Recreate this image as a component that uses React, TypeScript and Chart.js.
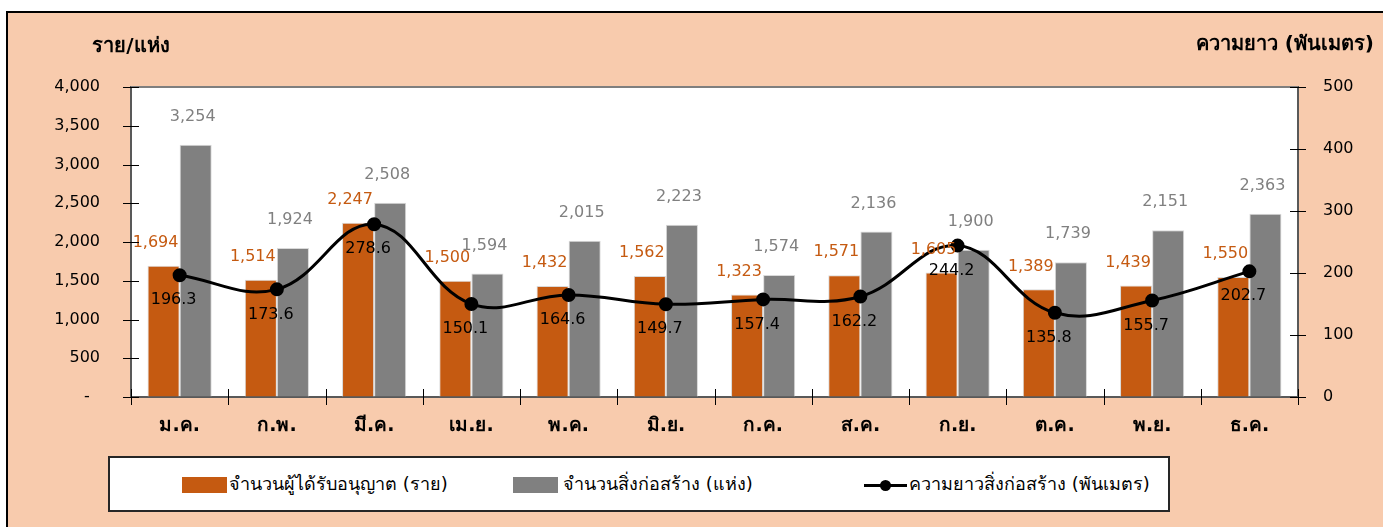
import React, { useEffect, useRef } from "react";
import { Chart, registerables } from "chart.js";

Chart.register(...registerables);

const months = ["ม.ค.", "ก.พ.", "มี.ค.", "เม.ย.", "พ.ค.", "มิ.ย.", "ก.ค.", "ส.ค.", "ก.ย.", "ต.ค.", "พ.ย.", "ธ.ค."];
const permitHolders = [1694, 1514, 2247, 1500, 1432, 1562, 1323, 1571, 1605, 1389, 1439, 1550];
const structures = [3254, 1924, 2508, 1594, 2015, 2223, 1574, 2136, 1900, 1739, 2151, 2363];
const lengthThousandM = [196.3, 173.6, 278.6, 150.1, 164.6, 149.7, 157.4, 162.2, 244.2, 135.8, 155.7, 202.7];
const seriesNames = [
  "จำนวนผู้ได้รับอนุญาต (ราย)",
  "จำนวนสิ่งก่อสร้าง (แห่ง)",
  "ความยาวสิ่งก่อสร้าง (พันเมตร)",
];
const leftAxisTitle = "ราย/แห่ง";
const rightAxisTitle = "ความยาว (พันเมตร)";
const leftAxisMax = 4000;
const leftAxisStep = 500;
const rightAxisMax = 500;
const rightAxisStep = 100;

const ORANGE = "#C55A11";
const GRAY = "#808080";
const PEACH = "#F8CBAD";
const FONT = "'DejaVu Sans', 'Noto Sans', sans-serif";

const CANVAS_W = 1375;
const CANVAS_H = 514;

const fmt = (v: number) => v.toLocaleString("en-US");

const decorPlugin = {
  id: "decor",
  beforeDraw(chart: any) {
    const { ctx, chartArea: a } = chart;
    ctx.save();
    ctx.fillStyle = "#ffffff";
    ctx.fillRect(a.left, a.top, a.right - a.left, a.bottom - a.top);
    ctx.restore();
  },
  afterDatasetsDraw(chart: any) {
    const { ctx } = chart;
    ctx.save();
    ctx.textAlign = "center";
    ctx.textBaseline = "middle";
    ctx.font = `16px ${FONT}`;
    const m0 = chart.getDatasetMeta(0);
    m0.data.forEach((el: any, i: number) => {
      ctx.fillStyle = ORANGE;
      ctx.fillText(fmt(permitHolders[i]), el.x - 8, el.y - 23);
    });
    const m1 = chart.getDatasetMeta(1);
    m1.data.forEach((el: any, i: number) => {
      ctx.fillStyle = GRAY;
      ctx.fillText(fmt(structures[i]), el.x - 3, el.y - 28);
    });
    const m2 = chart.getDatasetMeta(2);
    m2.data.forEach((el: any, i: number) => {
      ctx.fillStyle = "#000";
      ctx.fillText(lengthThousandM[i].toFixed(1), el.x - 6, el.y + 25);
    });
    ctx.restore();
  },
  afterDraw(chart: any) {
    const { ctx, chartArea: a, scales } = chart;
    ctx.save();
    // top border of plot area
    ctx.strokeStyle = "#7f7f7f";
    ctx.lineWidth = 2;
    ctx.beginPath();
    ctx.moveTo(a.left, a.top);
    ctx.lineTo(a.right, a.top);
    ctx.stroke();
    // cross tick marks
    ctx.strokeStyle = "#000";
    ctx.lineWidth = 1;
    ctx.beginPath();
    scales.y.ticks.forEach((t: any) => {
      const y = Math.round(scales.y.getPixelForValue(t.value)) + 0.5;
      ctx.moveTo(a.left - 8, y);
      ctx.lineTo(a.left + 8, y);
    });
    scales.y1.ticks.forEach((t: any) => {
      const y = Math.round(scales.y1.getPixelForValue(t.value)) + 0.5;
      ctx.moveTo(a.right - 8, y);
      ctx.lineTo(a.right + 8, y);
    });
    const n = months.length;
    for (let i = 0; i <= n; i++) {
      const x = Math.round(a.left + ((a.right - a.left) * i) / n) + 0.5;
      ctx.moveTo(x, a.bottom - 8);
      ctx.lineTo(x, a.bottom + 8);
    }
    ctx.stroke();
    // right axis tick labels
    ctx.fillStyle = "#000";
    ctx.font = `16px ${FONT}`;
    ctx.textAlign = "left";
    ctx.textBaseline = "middle";
    scales.y1.ticks.forEach((t: any) => {
      const y = scales.y1.getPixelForValue(t.value);
      ctx.fillText(String(t.value), a.right + 25, y);
    });
    // axis titles
    ctx.font = `bold 20px ${FONT}`;
    ctx.textBaseline = "middle";
    ctx.textAlign = "center";
    ctx.fillText(leftAxisTitle, 123, 34);
    ctx.textAlign = "right";
    ctx.fillText(rightAxisTitle, 1366, 32);
    ctx.restore();
  },
};

export default function App() {
  const ref = useRef<HTMLCanvasElement | null>(null);

  useEffect(() => {
    if (!ref.current) return;
    const chart = new Chart(ref.current, {
      type: "bar",
      data: {
        labels: months,
        datasets: [
          {
            type: "bar",
            label: seriesNames[0],
            data: permitHolders,
            backgroundColor: ORANGE,
            borderColor: "#d9d9d9",
            borderWidth: 1,
            yAxisID: "y",
            order: 1,
            categoryPercentage: 0.66,
            barPercentage: 1.0,
          },
          {
            type: "bar",
            label: seriesNames[1],
            data: structures,
            backgroundColor: GRAY,
            borderColor: "#d9d9d9",
            borderWidth: 1,
            yAxisID: "y",
            order: 1,
            categoryPercentage: 0.66,
            barPercentage: 1.0,
          },
          {
            type: "line",
            label: seriesNames[2],
            data: lengthThousandM,
            borderColor: "#000",
            backgroundColor: "#000",
            borderWidth: 3,
            pointRadius: 5.5,
            pointBackgroundColor: "#000",
            pointBorderColor: "#000",
            tension: 0.4,
            yAxisID: "y1",
            order: 0,
          } as any,
        ],
      },
      options: {
        responsive: false,
        animation: false,
        layout: { padding: { top: 74, left: 0, right: 0, bottom: 0 } },
        plugins: {
          legend: { display: false },
          tooltip: { enabled: false },
        },
        scales: {
          x: {
            type: "category",
            offset: true,
            grid: { display: true, offset: true, drawOnChartArea: false, drawTicks: false },
            border: { display: true, color: "#595959", width: 2 },
            ticks: { color: "#000", font: { family: FONT, size: 19, weight: "bold" }, padding: 18, maxRotation: 0 },
            afterFit: (s: any) => {
              s.height = CANVAS_H - 384;
            },
          },
          y: {
            position: "left",
            min: 0,
            max: leftAxisMax,
            grid: { display: true, drawOnChartArea: false, drawTicks: false },
            border: { display: true, color: "#595959", width: 2 },
            ticks: {
              stepSize: leftAxisStep,
              color: "#000",
              font: { family: FONT, size: 16 },
              padding: 31,
              callback: (v: any) => (Number(v) === 0 ? "-  " : fmt(Number(v))),
            },
            afterFit: (s: any) => {
              s.width = 123;
            },
          },
          y1: {
            position: "right",
            min: 0,
            max: rightAxisMax,
            grid: { display: true, drawOnChartArea: false, drawTicks: false },
            border: { display: true, color: "#595959", width: 2 },
            ticks: {
              stepSize: rightAxisStep,
              display: false,
            },
            afterFit: (s: any) => {
              s.width = CANVAS_W - 1290;
            },
          },
        },
      } as any,
      plugins: [decorPlugin],
    });
    return () => chart.destroy();
  }, []);

  const legendText: React.CSSProperties = {
    position: "absolute",
    top: 0,
    height: 52,
    lineHeight: "52px",
    fontFamily: FONT,
    fontSize: 18,
    color: "#000",
    whiteSpace: "nowrap",
  };

  return (
    <div
      style={{
        position: "fixed",
        left: 6,
        top: 11,
        width: 1420,
        height: 560,
        border: "2px solid #000",
        background: PEACH,
        overflow: "hidden",
      }}
    >
      <canvas ref={ref} width={CANVAS_W} height={CANVAS_H} style={{ display: "block", width: CANVAS_W, height: CANVAS_H }} />
      <div
        style={{
          position: "absolute",
          left: 100,
          top: 443,
          width: 1058,
          height: 52,
          border: "2px solid #262626",
          background: "#fff",
        }}
      >
        <div style={{ position: "absolute", left: 72, top: 19, width: 45, height: 16, background: ORANGE }} />
        <div style={{ ...legendText, left: 119 }}>{seriesNames[0]}</div>
        <div style={{ position: "absolute", left: 403, top: 19, width: 45, height: 16, background: GRAY }} />
        <div style={{ ...legendText, left: 453 }}>{seriesNames[1]}</div>
        <div style={{ position: "absolute", left: 754, top: 26, width: 43, height: 3, background: "#000" }} />
        <div
          style={{
            position: "absolute",
            left: 770,
            top: 22,
            width: 11,
            height: 11,
            borderRadius: "50%",
            background: "#000",
          }}
        />
        <div style={{ ...legendText, left: 799 }}>{seriesNames[2]}</div>
      </div>
    </div>
  );
}
